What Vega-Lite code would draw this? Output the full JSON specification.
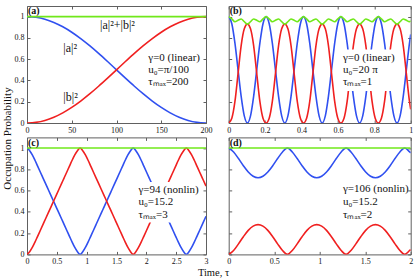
{
"$schema": "https://vega.github.io/schema/vega-lite/v6.json",
"padding": {"left": 0, "top": 5, "right": 0, "bottom": 0},
"config": {
 "font": "Liberation Serif",
 "view": {"stroke": "#606060", "strokeWidth": 1},
 "axis": {"labelFont": "Liberation Serif", "labelFontSize": 8, "labelColor": "#111", "tickColor": "#606060", "tickSize": -3, "labelPadding": 6, "domain": false, "grid": false, "labelFlush": false, "labelOverlap": false, "titleFont": "Liberation Serif", "titleFontSize": 11, "titleFontWeight": "normal", "titleColor": "#111", "labelExpr": "'' + datum.value"},
 "text": {"font": "Liberation Serif", "color": "#111"}
},
"datasets": {
 "A": [
  {"t":0,"a":1,"b":0,"s":1},{"t":10,"a":0.9938,"b":0.0062,"s":1},{"t":20,"a":0.9755,"b":0.0245,"s":1},{"t":30,"a":0.9455,"b":0.0545,"s":1},{"t":40,"a":0.9045,"b":0.0955,"s":1},{"t":50,"a":0.8536,"b":0.1464,"s":1},{"t":60,"a":0.7939,"b":0.2061,"s":1},{"t":70,"a":0.727,"b":0.273,"s":1},{"t":80,"a":0.6545,"b":0.3455,"s":1},{"t":90,"a":0.5782,"b":0.4218,"s":1},{"t":100,"a":0.5,"b":0.5,"s":1},{"t":110,"a":0.4218,"b":0.5782,"s":1},{"t":120,"a":0.3455,"b":0.6545,"s":1},{"t":130,"a":0.273,"b":0.727,"s":1},{"t":140,"a":0.2061,"b":0.7939,"s":1},{"t":150,"a":0.1464,"b":0.8536,"s":1},{"t":160,"a":0.0955,"b":0.9045,"s":1},{"t":170,"a":0.0545,"b":0.9455,"s":1},{"t":180,"a":0.0245,"b":0.9755,"s":1},{"t":190,"a":0.0062,"b":0.9938,"s":1},{"t":200,"a":0,"b":1,"s":1}
 ],
 "B": [
  {"t":0,"a":1,"b":0,"s":1},{"t":0.0171,"a":0.933,"b":0.045,"s":0.978},{"t":0.0343,"a":0.75,"b":0.2025,"s":0.9525},{"t":0.0514,"a":0.5,"b":0.465,"s":0.965},{"t":0.0685,"a":0.25,"b":0.7275,"s":0.9775},{"t":0.0856,"a":0.067,"b":0.885,"s":0.952},{"t":0.1028,"a":0,"b":0.93,"s":0.93},{"t":0.1199,"a":0.067,"b":0.885,"s":0.952},{"t":0.137,"a":0.25,"b":0.7275,"s":0.9775},{"t":0.1541,"a":0.5,"b":0.465,"s":0.965},{"t":0.1713,"a":0.75,"b":0.2025,"s":0.9525},{"t":0.1884,"a":0.933,"b":0.045,"s":0.978},
  {"t":0.2055,"a":1,"b":0,"s":1},{"t":0.2226,"a":0.933,"b":0.045,"s":0.978},{"t":0.2398,"a":0.75,"b":0.2025,"s":0.9525},{"t":0.2569,"a":0.5,"b":0.465,"s":0.965},{"t":0.274,"a":0.25,"b":0.7275,"s":0.9775},{"t":0.2911,"a":0.067,"b":0.885,"s":0.952},{"t":0.3083,"a":0,"b":0.93,"s":0.93},{"t":0.3254,"a":0.067,"b":0.885,"s":0.952},{"t":0.3425,"a":0.25,"b":0.7275,"s":0.9775},{"t":0.3596,"a":0.5,"b":0.465,"s":0.965},{"t":0.3768,"a":0.75,"b":0.2025,"s":0.9525},{"t":0.3939,"a":0.933,"b":0.045,"s":0.978},
  {"t":0.411,"a":1,"b":0,"s":1},{"t":0.4281,"a":0.933,"b":0.045,"s":0.978},{"t":0.4453,"a":0.75,"b":0.2025,"s":0.9525},{"t":0.4624,"a":0.5,"b":0.465,"s":0.965},{"t":0.4795,"a":0.25,"b":0.7275,"s":0.9775},{"t":0.4966,"a":0.067,"b":0.885,"s":0.952},{"t":0.5138,"a":0,"b":0.93,"s":0.93},{"t":0.5309,"a":0.067,"b":0.885,"s":0.952},{"t":0.548,"a":0.25,"b":0.7275,"s":0.9775},{"t":0.5651,"a":0.5,"b":0.465,"s":0.965},{"t":0.5823,"a":0.75,"b":0.2025,"s":0.9525},{"t":0.5994,"a":0.933,"b":0.045,"s":0.978},
  {"t":0.6165,"a":1,"b":0,"s":1},{"t":0.6336,"a":0.933,"b":0.045,"s":0.978},{"t":0.6508,"a":0.75,"b":0.2025,"s":0.9525},{"t":0.6679,"a":0.5,"b":0.465,"s":0.965},{"t":0.685,"a":0.25,"b":0.7275,"s":0.9775},{"t":0.7021,"a":0.067,"b":0.885,"s":0.952},{"t":0.7193,"a":0,"b":0.93,"s":0.93},{"t":0.7364,"a":0.067,"b":0.885,"s":0.952},{"t":0.7535,"a":0.25,"b":0.7275,"s":0.9775},{"t":0.7706,"a":0.5,"b":0.465,"s":0.965},{"t":0.7878,"a":0.75,"b":0.2025,"s":0.9525},{"t":0.8049,"a":0.933,"b":0.045,"s":0.978},
  {"t":0.822,"a":1,"b":0,"s":1},{"t":0.8391,"a":0.933,"b":0.045,"s":0.978},{"t":0.8563,"a":0.75,"b":0.2025,"s":0.9525},{"t":0.8734,"a":0.5,"b":0.465,"s":0.965},{"t":0.8905,"a":0.25,"b":0.7275,"s":0.9775},{"t":0.9076,"a":0.067,"b":0.885,"s":0.952},{"t":0.9248,"a":0,"b":0.93,"s":0.93},{"t":0.9419,"a":0.067,"b":0.885,"s":0.952},{"t":0.959,"a":0.25,"b":0.7275,"s":0.9775},{"t":0.9761,"a":0.5,"b":0.465,"s":0.965},{"t":0.9933,"a":0.75,"b":0.2025,"s":0.9525},{"t":1,"a":0.833,"b":0.129,"s":0.962}
 ],
 "C": [
  {"t":0,"a":1,"b":0,"s":1},{"t":0.0445,"a":0.975,"b":0.025,"s":1},{"t":0.089,"a":0.935,"b":0.065,"s":1},{"t":0.1335,"a":0.885,"b":0.115,"s":1},{"t":0.178,"a":0.83,"b":0.17,"s":1},{"t":0.2225,"a":0.775,"b":0.225,"s":1},{"t":0.267,"a":0.72,"b":0.28,"s":1},{"t":0.3115,"a":0.665,"b":0.335,"s":1},{"t":0.356,"a":0.61,"b":0.39,"s":1},{"t":0.4005,"a":0.555,"b":0.445,"s":1},{"t":0.445,"a":0.5,"b":0.5,"s":1},{"t":0.4895,"a":0.445,"b":0.555,"s":1},{"t":0.534,"a":0.39,"b":0.61,"s":1},{"t":0.5785,"a":0.335,"b":0.665,"s":1},{"t":0.623,"a":0.28,"b":0.72,"s":1},{"t":0.6675,"a":0.225,"b":0.775,"s":1},{"t":0.712,"a":0.17,"b":0.83,"s":1},{"t":0.7565,"a":0.115,"b":0.885,"s":1},{"t":0.801,"a":0.065,"b":0.935,"s":1},{"t":0.8455,"a":0.025,"b":0.975,"s":1},
  {"t":0.89,"a":0,"b":1,"s":1},{"t":0.9345,"a":0.025,"b":0.975,"s":1},{"t":0.979,"a":0.065,"b":0.935,"s":1},{"t":1.0235,"a":0.115,"b":0.885,"s":1},{"t":1.068,"a":0.17,"b":0.83,"s":1},{"t":1.1125,"a":0.225,"b":0.775,"s":1},{"t":1.157,"a":0.28,"b":0.72,"s":1},{"t":1.2015,"a":0.335,"b":0.665,"s":1},{"t":1.246,"a":0.39,"b":0.61,"s":1},{"t":1.2905,"a":0.445,"b":0.555,"s":1},{"t":1.335,"a":0.5,"b":0.5,"s":1},{"t":1.3795,"a":0.555,"b":0.445,"s":1},{"t":1.424,"a":0.61,"b":0.39,"s":1},{"t":1.4685,"a":0.665,"b":0.335,"s":1},{"t":1.513,"a":0.72,"b":0.28,"s":1},{"t":1.5575,"a":0.775,"b":0.225,"s":1},{"t":1.602,"a":0.83,"b":0.17,"s":1},{"t":1.6465,"a":0.885,"b":0.115,"s":1},{"t":1.691,"a":0.935,"b":0.065,"s":1},{"t":1.7355,"a":0.975,"b":0.025,"s":1},
  {"t":1.78,"a":1,"b":0,"s":1},{"t":1.8245,"a":0.975,"b":0.025,"s":1},{"t":1.869,"a":0.935,"b":0.065,"s":1},{"t":1.9135,"a":0.885,"b":0.115,"s":1},{"t":1.958,"a":0.83,"b":0.17,"s":1},{"t":2.0025,"a":0.775,"b":0.225,"s":1},{"t":2.047,"a":0.72,"b":0.28,"s":1},{"t":2.0915,"a":0.665,"b":0.335,"s":1},{"t":2.136,"a":0.61,"b":0.39,"s":1},{"t":2.1805,"a":0.555,"b":0.445,"s":1},{"t":2.225,"a":0.5,"b":0.5,"s":1},{"t":2.2695,"a":0.445,"b":0.555,"s":1},{"t":2.314,"a":0.39,"b":0.61,"s":1},{"t":2.3585,"a":0.335,"b":0.665,"s":1},{"t":2.403,"a":0.28,"b":0.72,"s":1},{"t":2.4475,"a":0.225,"b":0.775,"s":1},{"t":2.492,"a":0.17,"b":0.83,"s":1},{"t":2.5365,"a":0.115,"b":0.885,"s":1},{"t":2.581,"a":0.065,"b":0.935,"s":1},{"t":2.6255,"a":0.025,"b":0.975,"s":1},
  {"t":2.67,"a":0,"b":1,"s":1},{"t":2.7145,"a":0.025,"b":0.975,"s":1},{"t":2.759,"a":0.065,"b":0.935,"s":1},{"t":2.8035,"a":0.115,"b":0.885,"s":1},{"t":2.848,"a":0.17,"b":0.83,"s":1},{"t":2.8925,"a":0.225,"b":0.775,"s":1},{"t":2.937,"a":0.28,"b":0.72,"s":1},{"t":2.9815,"a":0.335,"b":0.665,"s":1},{"t":3,"a":0.358,"b":0.642,"s":1}
 ],
 "D": [
  {"t":0,"a":1,"b":0,"s":1},{"t":0.0538,"a":0.9631,"b":0.0369,"s":1},{"t":0.1075,"a":0.901,"b":0.099,"s":1},{"t":0.1613,"a":0.8335,"b":0.1665,"s":1},{"t":0.215,"a":0.7743,"b":0.2257,"s":1},{"t":0.2688,"a":0.7342,"b":0.2658,"s":1},{"t":0.3225,"a":0.72,"b":0.28,"s":1},{"t":0.3763,"a":0.7342,"b":0.2658,"s":1},{"t":0.43,"a":0.7743,"b":0.2257,"s":1},{"t":0.4838,"a":0.8335,"b":0.1665,"s":1},{"t":0.5375,"a":0.901,"b":0.099,"s":1},{"t":0.5913,"a":0.9631,"b":0.0369,"s":1},
  {"t":0.645,"a":1,"b":0,"s":1},{"t":0.6988,"a":0.9631,"b":0.0369,"s":1},{"t":0.7525,"a":0.901,"b":0.099,"s":1},{"t":0.8063,"a":0.8335,"b":0.1665,"s":1},{"t":0.86,"a":0.7743,"b":0.2257,"s":1},{"t":0.9138,"a":0.7342,"b":0.2658,"s":1},{"t":0.9675,"a":0.72,"b":0.28,"s":1},{"t":1.0213,"a":0.7342,"b":0.2658,"s":1},{"t":1.075,"a":0.7743,"b":0.2257,"s":1},{"t":1.1288,"a":0.8335,"b":0.1665,"s":1},{"t":1.1825,"a":0.901,"b":0.099,"s":1},{"t":1.2363,"a":0.9631,"b":0.0369,"s":1},
  {"t":1.29,"a":1,"b":0,"s":1},{"t":1.3438,"a":0.9631,"b":0.0369,"s":1},{"t":1.3975,"a":0.901,"b":0.099,"s":1},{"t":1.4513,"a":0.8335,"b":0.1665,"s":1},{"t":1.505,"a":0.7743,"b":0.2257,"s":1},{"t":1.5588,"a":0.7342,"b":0.2658,"s":1},{"t":1.6125,"a":0.72,"b":0.28,"s":1},{"t":1.6663,"a":0.7342,"b":0.2658,"s":1},{"t":1.72,"a":0.7743,"b":0.2257,"s":1},{"t":1.7738,"a":0.8335,"b":0.1665,"s":1},{"t":1.8275,"a":0.901,"b":0.099,"s":1},{"t":1.8813,"a":0.9631,"b":0.0369,"s":1},
  {"t":1.935,"a":1,"b":0,"s":1},{"t":1.9888,"a":0.9631,"b":0.0369,"s":1},{"t":2,"a":0.955,"b":0.045,"s":1}
 ]
},
"bounds": "flush",
"columns": 2,
"spacing": {"row": 14.4, "column": 22.7},
"concat": [
  {"width": 179, "height": 117,
   "resolve": {"axis": {"x": "independent", "y": "independent"}},
   "layer": [
    {"data": {"name": "A"}, "mark": {"type": "line", "color": "#3050f0", "strokeWidth": 1.6, "interpolate": "monotone", "clip": true},
     "encoding": {
      "x": {"field": "t", "type": "quantitative", "scale": {"domain": [0, 200], "nice": false, "zero": false}, "axis": {"values": [0, 50, 100, 150, 200], "title": null}},
      "y": {"field": "a", "type": "quantitative", "scale": {"domain": [0, 1.1], "nice": false, "zero": false}, "axis": {"values": [0, 0.2, 0.4, 0.6, 0.8, 1], "title": "Occupation Probability", "titleX": -15, "titleY": 132, "titleAngle": 270, "titleBaseline": "bottom", "titleAlign": "center"}}
     }},
    {"data": {"name": "A"}, "mark": {"type": "line", "color": "#f02020", "strokeWidth": 1.6, "interpolate": "monotone", "clip": true},
     "encoding": {
      "x": {"field": "t", "type": "quantitative", "scale": {"domain": [0, 200], "nice": false, "zero": false}, "axis": null},
      "y": {"field": "b", "type": "quantitative", "scale": {"domain": [0, 1.1], "nice": false, "zero": false}, "axis": null}
     }},
    {"data": {"name": "A"}, "mark": {"type": "line", "color": "#70e81a", "strokeWidth": 1.6, "interpolate": "monotone", "clip": true},
     "encoding": {
      "x": {"field": "t", "type": "quantitative", "scale": {"domain": [0, 200], "nice": false, "zero": false}, "axis": null},
      "y": {"field": "s", "type": "quantitative", "scale": {"domain": [0, 1.1], "nice": false, "zero": false}, "axis": null}
     }},
    {"data": {"values": [{"x": 0, "y": 1.057, "label": "(a)"}]}, "mark": {"type": "text", "font": "Liberation Serif", "align": "left", "baseline": "middle", "fontSize": 10, "fontWeight": "bold", "dx": 1},
     "encoding": {
      "x": {"field": "x", "type": "quantitative", "scale": {"domain": [0, 200], "nice": false, "zero": false}, "axis": null},
      "y": {"field": "y", "type": "quantitative", "scale": {"domain": [0, 1.1], "nice": false, "zero": false}, "axis": null},
      "text": {"field": "label"}
     }},
    {"data": {"values": [{"x": 81.6, "y": 0.922, "label": "|a|²+|b|²"}, {"x": 40.6, "y": 0.709, "label": "|a|²"}, {"x": 40.6, "y": 0.24, "label": "|b|²"}]}, "mark": {"type": "text", "font": "Liberation Serif", "align": "left", "baseline": "middle", "fontSize": 12},
     "encoding": {
      "x": {"field": "x", "type": "quantitative", "scale": {"domain": [0, 200], "nice": false, "zero": false}, "axis": null},
      "y": {"field": "y", "type": "quantitative", "scale": {"domain": [0, 1.1], "nice": false, "zero": false}, "axis": null},
      "text": {"field": "label"}
     }},
    {"data": {"values": [{"x": 135.5, "y": 0.61, "label": "γ=0 (linear)"}, {"x": 135.5, "y": 0.497, "label": "u₀=π/100"}, {"x": 135.5, "y": 0.387, "label": "τₘₐₓ=200"}]}, "mark": {"type": "text", "font": "Liberation Serif", "align": "left", "baseline": "middle", "fontSize": 11},
     "encoding": {
      "x": {"field": "x", "type": "quantitative", "scale": {"domain": [0, 200], "nice": false, "zero": false}, "axis": {"orient": "top", "values": [0, 50, 100, 150, 200], "labels": false, "title": null}},
      "y": {"field": "y", "type": "quantitative", "scale": {"domain": [0, 1.1], "nice": false, "zero": false}, "axis": {"orient": "right", "values": [0, 0.2, 0.4, 0.6, 0.8, 1], "labels": false, "title": null}},
      "text": {"field": "label"}
     }}
   ]},
  {"width": 182, "height": 117,
   "resolve": {"axis": {"x": "independent", "y": "independent"}},
   "layer": [
    {"data": {"name": "B"}, "mark": {"type": "line", "color": "#3050f0", "strokeWidth": 1.6, "interpolate": "monotone", "clip": true},
     "encoding": {
      "x": {"field": "t", "type": "quantitative", "scale": {"domain": [0, 1], "nice": false, "zero": false}, "axis": {"values": [0, 0.2, 0.4, 0.6, 0.8, 1], "title": null}},
      "y": {"field": "a", "type": "quantitative", "scale": {"domain": [0, 1.1], "nice": false, "zero": false}, "axis": {"values": [0, 0.2, 0.4, 0.6, 0.8, 1], "labels": false, "title": null}}
     }},
    {"data": {"name": "B"}, "mark": {"type": "line", "color": "#f02020", "strokeWidth": 1.6, "interpolate": "monotone", "clip": true},
     "encoding": {
      "x": {"field": "t", "type": "quantitative", "scale": {"domain": [0, 1], "nice": false, "zero": false}, "axis": null},
      "y": {"field": "b", "type": "quantitative", "scale": {"domain": [0, 1.1], "nice": false, "zero": false}, "axis": null}
     }},
    {"data": {"values": [{"x1": 0.615, "x2": 0.935, "y1": 0.3, "y2": 0.69}]}, "mark": {"type": "rect", "color": "white", "opacity": 1},
     "encoding": {
      "x": {"field": "x1", "type": "quantitative", "scale": {"domain": [0, 1], "nice": false, "zero": false}, "axis": null},
      "x2": {"field": "x2"},
      "y": {"field": "y1", "type": "quantitative", "scale": {"domain": [0, 1.1], "nice": false, "zero": false}, "axis": null},
      "y2": {"field": "y2"}
     }},
    {"data": {"name": "B"}, "mark": {"type": "line", "color": "#70e81a", "strokeWidth": 1.6, "interpolate": "monotone", "clip": true},
     "encoding": {
      "x": {"field": "t", "type": "quantitative", "scale": {"domain": [0, 1], "nice": false, "zero": false}, "axis": null},
      "y": {"field": "s", "type": "quantitative", "scale": {"domain": [0, 1.1], "nice": false, "zero": false}, "axis": null}
     }},
    {"data": {"values": [{"x": 0, "y": 1.057, "label": "(b)"}]}, "mark": {"type": "text", "font": "Liberation Serif", "align": "left", "baseline": "middle", "fontSize": 10, "fontWeight": "bold", "dx": 1},
     "encoding": {
      "x": {"field": "x", "type": "quantitative", "scale": {"domain": [0, 1], "nice": false, "zero": false}, "axis": null},
      "y": {"field": "y", "type": "quantitative", "scale": {"domain": [0, 1.1], "nice": false, "zero": false}, "axis": null},
      "text": {"field": "label"}
     }},
    {"data": {"values": [{"x": 0.628, "y": 0.61, "label": "γ=0 (linear)"}, {"x": 0.628, "y": 0.497, "label": "u₀=20 π"}, {"x": 0.628, "y": 0.387, "label": "τₘₐₓ=1"}]}, "mark": {"type": "text", "font": "Liberation Serif", "align": "left", "baseline": "middle", "fontSize": 11},
     "encoding": {
      "x": {"field": "x", "type": "quantitative", "scale": {"domain": [0, 1], "nice": false, "zero": false}, "axis": {"orient": "top", "values": [0, 0.2, 0.4, 0.6, 0.8, 1], "labels": false, "title": null}},
      "y": {"field": "y", "type": "quantitative", "scale": {"domain": [0, 1.1], "nice": false, "zero": false}, "axis": {"orient": "right", "values": [0, 0.2, 0.4, 0.6, 0.8, 1], "labels": false, "title": null}},
      "text": {"field": "label"}
     }}
   ]},
  {"width": 179, "height": 117,
   "resolve": {"axis": {"x": "independent", "y": "independent"}},
   "layer": [
    {"data": {"name": "C"}, "mark": {"type": "line", "color": "#3050f0", "strokeWidth": 1.6, "interpolate": "monotone", "clip": true},
     "encoding": {
      "x": {"field": "t", "type": "quantitative", "scale": {"domain": [0, 3], "nice": false, "zero": false}, "axis": {"values": [0, 0.5, 1, 1.5, 2, 2.5, 3], "title": "Time, τ", "titleX": 186, "titleY": 18, "titleBaseline": "middle", "titleAlign": "center", "titleFontSize": 10.5}},
      "y": {"field": "a", "type": "quantitative", "scale": {"domain": [0, 1.1], "nice": false, "zero": false}, "axis": {"values": [0, 0.2, 0.4, 0.6, 0.8, 1], "title": null}}
     }},
    {"data": {"name": "C"}, "mark": {"type": "line", "color": "#f02020", "strokeWidth": 1.6, "interpolate": "monotone", "clip": true},
     "encoding": {
      "x": {"field": "t", "type": "quantitative", "scale": {"domain": [0, 3], "nice": false, "zero": false}, "axis": null},
      "y": {"field": "b", "type": "quantitative", "scale": {"domain": [0, 1.1], "nice": false, "zero": false}, "axis": null}
     }},
    {"data": {"values": [{"x1": 1.83, "x2": 2.93, "y1": 0.3, "y2": 0.68}]}, "mark": {"type": "rect", "color": "white", "opacity": 1},
     "encoding": {
      "x": {"field": "x1", "type": "quantitative", "scale": {"domain": [0, 3], "nice": false, "zero": false}, "axis": null},
      "x2": {"field": "x2"},
      "y": {"field": "y1", "type": "quantitative", "scale": {"domain": [0, 1.1], "nice": false, "zero": false}, "axis": null},
      "y2": {"field": "y2"}
     }},
    {"data": {"name": "C"}, "mark": {"type": "line", "color": "#70e81a", "strokeWidth": 1.6, "interpolate": "monotone", "clip": true},
     "encoding": {
      "x": {"field": "t", "type": "quantitative", "scale": {"domain": [0, 3], "nice": false, "zero": false}, "axis": null},
      "y": {"field": "s", "type": "quantitative", "scale": {"domain": [0, 1.1], "nice": false, "zero": false}, "axis": null}
     }},
    {"data": {"values": [{"x": 0, "y": 1.046, "label": "(c)"}]}, "mark": {"type": "text", "font": "Liberation Serif", "align": "left", "baseline": "middle", "fontSize": 10, "fontWeight": "bold", "dx": 1},
     "encoding": {
      "x": {"field": "x", "type": "quantitative", "scale": {"domain": [0, 3], "nice": false, "zero": false}, "axis": null},
      "y": {"field": "y", "type": "quantitative", "scale": {"domain": [0, 1.1], "nice": false, "zero": false}, "axis": null},
      "text": {"field": "label"}
     }},
    {"data": {"values": [{"x": 1.867, "y": 0.61, "label": "γ=94 (nonlin)"}, {"x": 1.867, "y": 0.49, "label": "u₀=15.2"}, {"x": 1.867, "y": 0.366, "label": "τₘₐₓ=3"}]}, "mark": {"type": "text", "font": "Liberation Serif", "align": "left", "baseline": "middle", "fontSize": 11},
     "encoding": {
      "x": {"field": "x", "type": "quantitative", "scale": {"domain": [0, 3], "nice": false, "zero": false}, "axis": {"orient": "top", "values": [0, 0.5, 1, 1.5, 2, 2.5, 3], "labels": false, "title": null}},
      "y": {"field": "y", "type": "quantitative", "scale": {"domain": [0, 1.1], "nice": false, "zero": false}, "axis": {"orient": "right", "values": [0, 0.2, 0.4, 0.6, 0.8, 1], "labels": false, "title": null}},
      "text": {"field": "label"}
     }}
   ]},
  {"width": 182, "height": 117,
   "resolve": {"axis": {"x": "independent", "y": "independent"}},
   "layer": [
    {"data": {"name": "D"}, "mark": {"type": "line", "color": "#3050f0", "strokeWidth": 1.6, "interpolate": "monotone", "clip": true},
     "encoding": {
      "x": {"field": "t", "type": "quantitative", "scale": {"domain": [0, 2], "nice": false, "zero": false}, "axis": {"values": [0, 0.5, 1, 1.5, 2], "title": null}},
      "y": {"field": "a", "type": "quantitative", "scale": {"domain": [0, 1.1], "nice": false, "zero": false}, "axis": {"values": [0, 0.2, 0.4, 0.6, 0.8, 1], "labels": false, "title": null}}
     }},
    {"data": {"name": "D"}, "mark": {"type": "line", "color": "#f02020", "strokeWidth": 1.6, "interpolate": "monotone", "clip": true},
     "encoding": {
      "x": {"field": "t", "type": "quantitative", "scale": {"domain": [0, 2], "nice": false, "zero": false}, "axis": null},
      "y": {"field": "b", "type": "quantitative", "scale": {"domain": [0, 1.1], "nice": false, "zero": false}, "axis": null}
     }},
    {"data": {"name": "D"}, "mark": {"type": "line", "color": "#70e81a", "strokeWidth": 1.6, "interpolate": "monotone", "clip": true},
     "encoding": {
      "x": {"field": "t", "type": "quantitative", "scale": {"domain": [0, 2], "nice": false, "zero": false}, "axis": null},
      "y": {"field": "s", "type": "quantitative", "scale": {"domain": [0, 1.1], "nice": false, "zero": false}, "axis": null}
     }},
    {"data": {"values": [{"x": 0, "y": 1.046, "label": "(d)"}]}, "mark": {"type": "text", "font": "Liberation Serif", "align": "left", "baseline": "middle", "fontSize": 10, "fontWeight": "bold", "dx": 1},
     "encoding": {
      "x": {"field": "x", "type": "quantitative", "scale": {"domain": [0, 2], "nice": false, "zero": false}, "axis": null},
      "y": {"field": "y", "type": "quantitative", "scale": {"domain": [0, 1.1], "nice": false, "zero": false}, "axis": null},
      "text": {"field": "label"}
     }},
    {"data": {"values": [{"x": 1.256, "y": 0.615, "label": "γ=106 (nonlin)"}, {"x": 1.256, "y": 0.49, "label": "u₀=15.2"}, {"x": 1.256, "y": 0.375, "label": "τₘₐₓ=2"}]}, "mark": {"type": "text", "font": "Liberation Serif", "align": "left", "baseline": "middle", "fontSize": 11},
     "encoding": {
      "x": {"field": "x", "type": "quantitative", "scale": {"domain": [0, 2], "nice": false, "zero": false}, "axis": {"orient": "top", "values": [0, 0.5, 1, 1.5, 2], "labels": false, "title": null}},
      "y": {"field": "y", "type": "quantitative", "scale": {"domain": [0, 1.1], "nice": false, "zero": false}, "axis": {"orient": "right", "values": [0, 0.2, 0.4, 0.6, 0.8, 1], "labels": false, "title": null}},
      "text": {"field": "label"}
     }}
   ]}
]
}
